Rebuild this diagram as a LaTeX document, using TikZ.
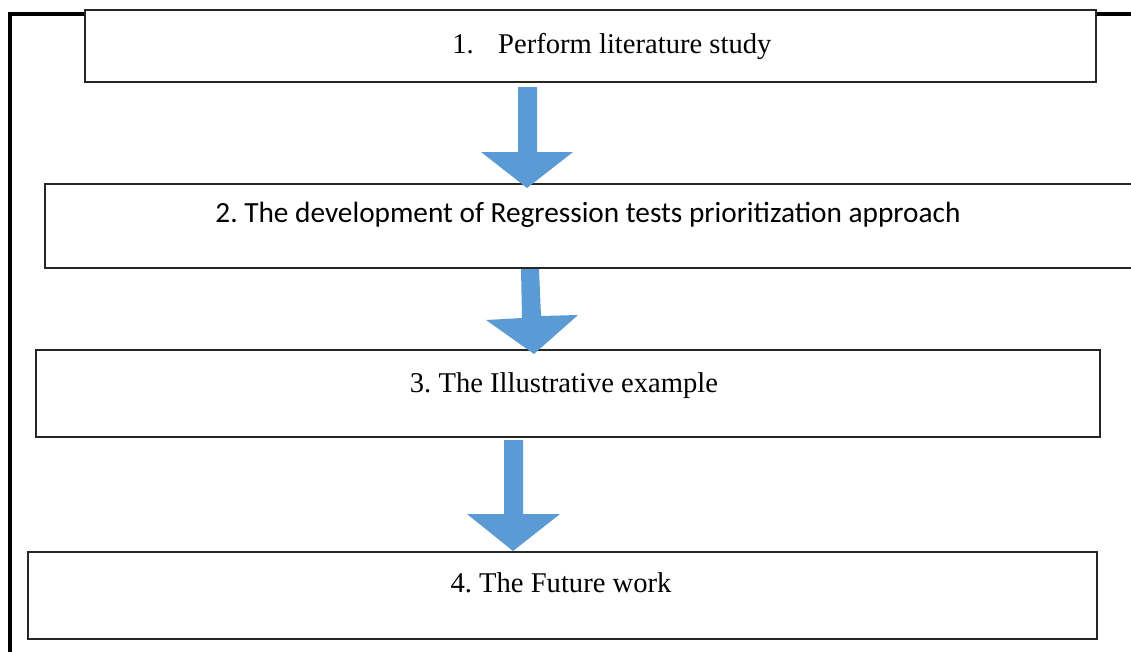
\documentclass[tikz,border=0pt]{standalone}
\usepackage{fontspec}
\setmainfont{Liberation Serif}
\newfontfamily\calibrifont{Carlito}
\frenchspacing
\begin{document}
\begin{tikzpicture}[x=1pt,y=-1pt,
  stagebox/.style={draw=black!85, line width=1.6pt, fill=white},
  flowarrow/.style={fill=arrowblue, draw=none},
  label/.style={anchor=base, inner sep=0pt, font=\fontsize{28.6}{34}\selectfont},
  sanslabel/.style={label, font=\calibrifont\fontsize{29.3}{34}\selectfont}]
\definecolor{arrowblue}{HTML}{5B9BD5}
\useasboundingbox (0,0) rectangle (1131,651);

% outer frame (left and top edges)
\draw[line width=4pt] (10,660) -- (10,14) -- (1140,14);

% stage boxes
\draw[stagebox] (85,10) rectangle (1096,82);
\draw[stagebox] (45,184) rectangle (1145,268);
\draw[stagebox] (36,350) rectangle (1100,437);
\draw[stagebox] (28,552) rectangle (1097,639);

% labels
\node[label] (t1a) at (463,53) {1.};
\node[label, anchor=base west] (t1b) at (498,53) {Perform literature study};
\node[sanslabel] (t2) at (588,222) {2. The development of Regression tests prioritization approach};
\node[label] (t3) at (564,392) {3. The Illustrative example};
\node[label] (t4) at (561,592) {4. The Future work};

% block arrows between the stages
\fill[flowarrow] (518,87) -- (537,87) -- (537,152) -- (573,152) -- (527,188)
  -- (481,152) -- (518,152) -- cycle;
\fill[flowarrow] (521,269) -- (539,269) -- (541,316) -- (578,315) -- (534,354)
  -- (486,320) -- (522,318) -- cycle;
\fill[flowarrow] (504,440) -- (523,440) -- (523,514) -- (560,514) -- (513,551)
  -- (467,514) -- (504,514) -- cycle;
\end{tikzpicture}
\end{document}
